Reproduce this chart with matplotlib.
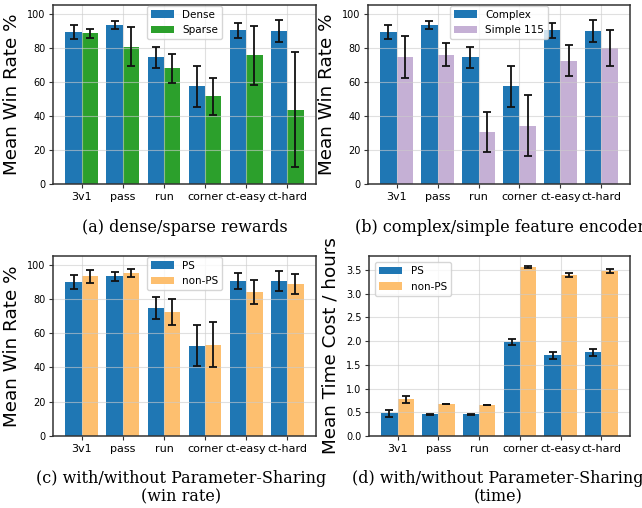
import matplotlib
matplotlib.use("Agg")
import matplotlib.pyplot as plt
import numpy as np

tasks = ["3v1", "pass", "run", "corner", "ct-easy", "ct-hard"]

# (a) dense / sparse rewards
dense = [89.0, 93.1, 74.3, 57.3, 90.2, 89.6]
dense_err = [4.0, 2.3, 6.1, 12.1, 4.5, 6.5]
sparse = [88.4, 80.6, 67.8, 51.4, 75.5, 43.7]
sparse_err = [2.7, 11.4, 8.3, 10.9, 17.4, 33.6]

# (b) complex / simple feature encoders
complex_enc = [89.0, 93.1, 74.3, 57.3, 90.2, 89.6]
complex_err = [4.0, 2.3, 6.1, 12.1, 4.5, 6.5]
simple115 = [74.3, 75.9, 30.6, 34.3, 72.4, 79.6]
simple115_err = [12.3, 6.9, 11.7, 17.9, 9.3, 10.5]

# (c) parameter sharing, win rate
ps_win = [89.8, 93.1, 74.5, 52.7, 90.4, 90.4]
ps_win_err = [3.9, 2.5, 6.3, 11.8, 4.7, 6.1]
nonps_win = [93.3, 95.1, 72.2, 53.3, 83.9, 88.6]
nonps_win_err = [3.8, 2.4, 7.5, 13.0, 7.0, 5.9]

# (d) parameter sharing, time cost (hours)
ps_time = [0.48, 0.46, 0.46, 1.98, 1.70, 1.76]
ps_time_err = [0.075, 0.01, 0.01, 0.06, 0.07, 0.07]
nonps_time = [0.77, 0.67, 0.65, 3.56, 3.39, 3.47]
nonps_time_err = [0.075, 0.005, 0.004, 0.025, 0.04, 0.045]

BLUE = "#1f77b4"
GREEN = "#2ca02c"
PURPLE = "#c5b0d5"
ORANGE = "#fdbf6f"


def _bar_panel(ax, a, a_err, b, b_err, labels, colors, ylabel, legend_loc, win_rate=True):
    x = np.arange(len(tasks))
    w = 0.4
    ekw = dict(ecolor="#111111", elinewidth=1.3, capsize=3, capthick=1.3)
    ax.bar(x - w / 2, a, w, yerr=a_err, color=colors[0], label=labels[0], error_kw=ekw)
    ax.bar(x + w / 2, b, w, yerr=b_err, color=colors[1], label=labels[1], error_kw=ekw)
    ax.set_xticks(x)
    ax.set_xticklabels(tasks, fontsize=8)
    ax.tick_params(axis="y", labelsize=7, length=3, color="#333333", pad=2.5)
    ax.tick_params(axis="x", length=3, color="#333333", pad=2.5)
    ax.set_xlim(-0.7, len(tasks) - 0.3)
    if win_rate:
        ax.set_ylim(0, 105)
        ax.set_yticks([0, 20, 40, 60, 80, 100])
    else:
        ax.set_ylim(0, 3.79)
        ax.set_yticks(np.arange(0, 3.6, 0.5))
    ax.grid(True, color="#cccccc", alpha=0.6, linewidth=0.8)
    for s in ax.spines.values():
        s.set_color("#333333")
        s.set_linewidth(1.1)
    ax.set_ylabel(ylabel, fontsize=13.2, labelpad=4.5)
    ax.legend(loc=legend_loc, fontsize=7.5, borderaxespad=0.05 if legend_loc == "upper center" else 0.6,
              handlelength=2.2, framealpha=0.8)


fig = plt.figure(figsize=(6.42, 5.08), dpi=100)
W, H = 642.0, 508.0

ax_a = fig.add_axes([53 / W, 1 - 184 / H, 263 / W, 179 / H])
ax_b = fig.add_axes([368 / W, 1 - 184 / H, 262 / W, 179 / H])
ax_c = fig.add_axes([53 / W, 1 - 436 / H, 263 / W, 180 / H])
ax_d = fig.add_axes([369 / W, 1 - 436 / H, 261 / W, 180 / H])

_bar_panel(ax_a, dense, dense_err, sparse, sparse_err, ["Dense", "Sparse"],
           [BLUE, GREEN], "Mean Win Rate %", "upper center")
_bar_panel(ax_b, complex_enc, complex_err, simple115, simple115_err, ["Complex", "Simple 115"],
           [BLUE, PURPLE], "Mean Win Rate %", "upper center")
_bar_panel(ax_c, ps_win, ps_win_err, nonps_win, nonps_win_err, ["PS", "non-PS"],
           [BLUE, ORANGE], "Mean Win Rate %", "upper center")
_bar_panel(ax_d, ps_time, ps_time_err, nonps_time, nonps_time_err, ["PS", "non-PS"],
           [BLUE, ORANGE], "Mean Time Cost / hours", "upper left", win_rate=False)

# captions run past the right edge in the original figure as well
cap = dict(fontsize=11.5, family="DejaVu Serif", ha="center", va="center")
fig.text(185 / W, 1 - 228 / H, "(a) dense/sparse rewards", **cap)
fig.text(355 / W, 1 - 228 / H, "(b) complex/simple feature encoders",
         fontsize=11.5, family="DejaVu Serif", ha="left", va="center")
fig.text(181 / W, 1 - 487.5 / H, "(c) with/without Parameter-Sharing\n(win rate)",
         multialignment="center", linespacing=1.15, **cap)
fig.text(498 / W, 1 - 487.5 / H, "(d) with/without Parameter-Sharing\n(time)",
         multialignment="center", linespacing=1.15, **cap)

fig.savefig("out.png", dpi=100)
